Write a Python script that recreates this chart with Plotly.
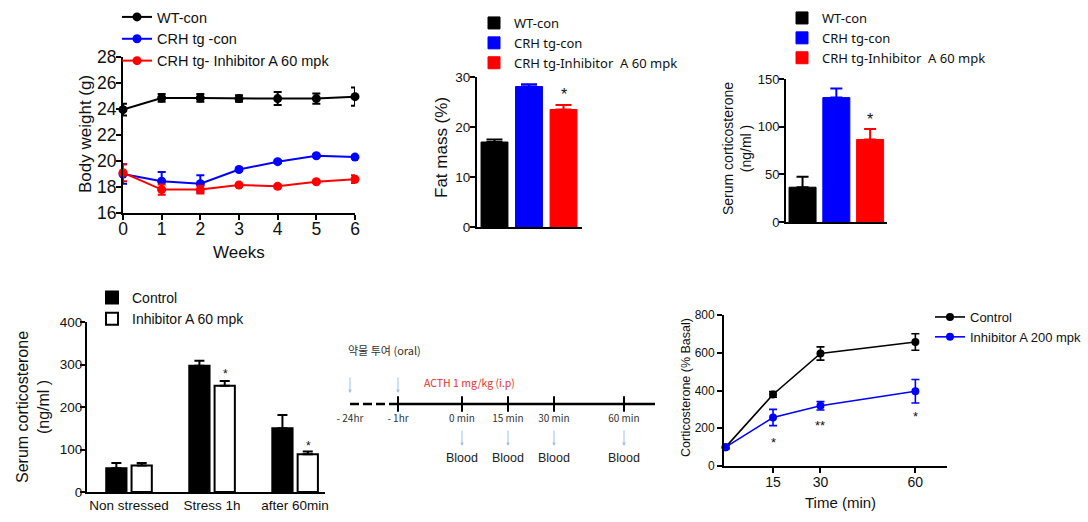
import plotly.graph_objects as go

W, H = 1088, 522
FONT = "Liberation Sans, Arial, sans-serif"
KFONT = "Noto Sans CJK KR, Noto Sans, sans-serif"
LFONT = "Noto Sans, Liberation Sans, sans-serif"

# ---------------- data ----------------
# Panel A: body weight over weeks
weeks = [0, 1, 2, 3, 4, 5, 6]
bw_names = ["WT-con", "CRH tg -con", "CRH tg- Inhibitor A 60 mpk"]
bw_wt = [23.95, 24.85, 24.85, 24.8, 24.8, 24.8, 24.95]
bw_wt_err = [0.45, 0.3, 0.3, 0.25, 0.5, 0.4, 0.7]
bw_tg = [19.0, 18.45, 18.25, 19.35, 19.95, 20.4, 20.3]
bw_tg_err = [0.75, 0.7, 0.65, 0.1, 0.1, 0.1, 0.1]
bw_inh = [19.1, 17.8, 17.8, 18.15, 18.05, 18.4, 18.6]
bw_inh_err = [0.65, 0.4, 0.3, 0.1, 0.1, 0.1, 0.3]

# Panel B: fat mass
grp_names = ["WT-con", "CRH tg-con", "CRH tg-Inhibitor\u00a0 A 60 mpk"]
fat_vals = [17.0, 28.1, 23.5]
fat_err = [0.5, 0.45, 0.9]
fat_star = 27.3

# Panel C: serum corticosterone
cort_vals = [36.5, 130.5, 86.5]
cort_err = [11, 9.5, 11]
cort_star = 112

# Panel D: stress test
stress_cats = ["Non stressed", "Stress 1h", "after 60min"]
stress_names = ["Control", "Inhibitor A 60 mpk"]
stress_ctrl = [56, 297, 150]
stress_ctrl_err = [12, 12, 31]
stress_inh = [62.5, 250, 89]
stress_inh_err = [5.5, 11, 6]
stress_star_idx = [1, 2]
stress_star_y = [285, 116]

# Panel E: ACTH schematic
time_labels = ["- 24hr", "- 1hr", "0 min", "15 min", "30 min", "60 min"]
blood_label = "Blood"
dose_label = "약물 투여 (oral)"
acth_label = "ACTH 1 mg/kg (i.p)"

# Panel F: ACTH challenge
time_min = [0, 15, 30, 60]
acth_names = ["Control", "Inhibitor A 200 mpk"]
acth_ctrl = [100, 379, 596, 657]
acth_ctrl_err = [10, 15, 35, 44]
acth_inh = [100, 257, 319, 396]
acth_inh_err = [10, 43, 22, 62]
acth_star_x = [15, 30, 60]
acth_star_text = ["*", "**", "*"]
acth_star_y = [142, 232, 280]

BLACK, BLUE, RED = "#000000", "#0000ff", "#ff0000"


def xdom(a, b):
    return [a / W, b / W]


def ydom(top, bot):
    return [1 - bot / H, 1 - top / H]


fig = go.Figure()

# ---------- Panel A ----------
for name, ys, err, col in [(bw_names[0], bw_wt, bw_wt_err, BLACK),
                           (bw_names[1], bw_tg, bw_tg_err, BLUE),
                           (bw_names[2], bw_inh, bw_inh_err, RED)]:
    fig.add_trace(go.Scatter(
        x=weeks, y=ys, name=name, mode="lines+markers",
        line=dict(color=col, width=2), marker=dict(color=col, size=9),
        error_y=dict(type="data", array=err, color=col, thickness=2, width=4),
        xaxis="x", yaxis="y", legend="legend", cliponaxis=False))

# ---------- Panel B ----------
for i, col in enumerate([BLACK, BLUE, RED]):
    fig.add_trace(go.Bar(
        x=[grp_names[i]], y=[fat_vals[i]], name=grp_names[i],
        marker=dict(color=col, line=dict(color=col, width=1)), width=0.78,
        offsetgroup="b",
        error_y=dict(type="data", array=[fat_err[i]], arrayminus=[0], symmetric=False,
                     color=col, thickness=2, width=8),
        xaxis="x2", yaxis="y2", legend="legend2"))

# ---------- Panel C ----------
for i, col in enumerate([BLACK, BLUE, RED]):
    fig.add_trace(go.Bar(
        x=[grp_names[i]], y=[cort_vals[i]], name=grp_names[i],
        marker=dict(color=col, line=dict(color=col, width=1)), width=0.8,
        offsetgroup="c",
        error_y=dict(type="data", array=[cort_err[i]], arrayminus=[0], symmetric=False,
                     color=col, thickness=2, width=6),
        xaxis="x3", yaxis="y3", legend="legend3"))

# ---------- Panel D ----------
fig.add_trace(go.Bar(
    x=stress_cats, y=stress_ctrl, name=stress_names[0], offsetgroup="d1",
    marker=dict(color=BLACK, line=dict(color=BLACK, width=2)),
    error_y=dict(type="data", array=stress_ctrl_err, arrayminus=[0] * 3, symmetric=False,
                 color=BLACK, thickness=2, width=5),
    xaxis="x4", yaxis="y4", legend="legend4"))
fig.add_trace(go.Bar(
    x=stress_cats, y=stress_inh, name=stress_names[1], offsetgroup="d2",
    marker=dict(color="white", line=dict(color=BLACK, width=2)),
    error_y=dict(type="data", array=stress_inh_err, arrayminus=[0] * 3, symmetric=False,
                 color=BLACK, thickness=2, width=5),
    xaxis="x4", yaxis="y4", legend="legend4"))

# ---------- Panel F ----------
for name, ys, err, col in [(acth_names[0], acth_ctrl, acth_ctrl_err, BLACK),
                           (acth_names[1], acth_inh, acth_inh_err, BLUE)]:
    fig.add_trace(go.Scatter(
        x=time_min, y=ys, name=name, mode="lines+markers",
        line=dict(color=col, width=1.6), marker=dict(color=col, size=8),
        error_y=dict(type="data", array=err, color=col, thickness=1.6, width=4),
        xaxis="x6", yaxis="y6", legend="legend6", cliponaxis=False))

# ---------- Panel E (schematic on a pixel-unit canvas) ----------
tick_px = [350, 398, 462, 508, 554, 624]   # schematic positions of time points
line_y = 404
fig.add_trace(go.Scatter(x=[tick_px[0], tick_px[1]], y=[line_y, line_y], mode="lines",
                         line=dict(color="black", width=2.5, dash="9px,4px"),
                         xaxis="x5", yaxis="y5", showlegend=False, hoverinfo="skip"))
fig.add_trace(go.Scatter(x=[tick_px[1], 655], y=[line_y, line_y], mode="lines",
                         line=dict(color="black", width=2.5),
                         xaxis="x5", yaxis="y5", showlegend=False, hoverinfo="skip"))
fig.add_trace(go.Scatter(x=tick_px[1:], y=[line_y] * 5, mode="markers",
                         marker=dict(symbol="line-ns-open", size=11, color="black",
                                     line=dict(color="black", width=2)),
                         xaxis="x5", yaxis="y5", showlegend=False, hoverinfo="skip"))
fig.add_trace(go.Scatter(x=tick_px, y=[419] * 6, mode="text", text=time_labels,
                         textfont=dict(family=KFONT, size=10, color="#333"),
                         xaxis="x5", yaxis="y5", showlegend=False, hoverinfo="skip"))
fig.add_trace(go.Scatter(x=tick_px[2:], y=[459] * 4, mode="text", text=[blood_label] * 4,
                         textfont=dict(family=FONT, size=12.5, color="#222"),
                         xaxis="x5", yaxis="y5", showlegend=False, hoverinfo="skip"))

annotations = []
ARROW = "#9cc0e8"
for xp in tick_px[:2]:
    annotations.append(dict(x=xp, y=393, ax=xp, ay=376, xref="x5", yref="y5",
                            axref="x5", ayref="y5", text="", showarrow=True,
                            arrowhead=2, arrowsize=0.7, arrowwidth=1, arrowcolor=ARROW))
for xp in tick_px[2:]:
    annotations.append(dict(x=xp, y=446, ax=xp, ay=429, xref="x5", yref="y5",
                            axref="x5", ayref="y5", text="", showarrow=True,
                            arrowhead=2, arrowsize=0.7, arrowwidth=1, arrowcolor=ARROW))
annotations.append(dict(x=346, y=350, xref="x5", yref="y5", text=dose_label, showarrow=False,
                        xanchor="left", font=dict(family=KFONT, size=11, color="#333")))
annotations.append(dict(x=422, y=382, xref="x5", yref="y5", text=acth_label, showarrow=False,
                        xanchor="left", font=dict(family=KFONT, size=10.5, color="#e8302a")))

# ---------- stars ----------
annotations.append(dict(x=grp_names[2], y=fat_star, xref="x2", yref="y2", text="*",
                        showarrow=False, yshift=-4, font=dict(family=FONT, size=16, color="#111")))
annotations.append(dict(x=grp_names[2], y=cort_star, xref="x3", yref="y3", text="*",
                        showarrow=False, yshift=-4, font=dict(family=FONT, size=16, color="#111")))
for idx, sy in zip(stress_star_idx, stress_star_y):
    annotations.append(dict(x=idx + 0.16, y=sy, xref="x4", yref="y4", text="*",
                            showarrow=False, yshift=-3, font=dict(family=FONT, size=12, color="#111")))
for sx, st, sy in zip(acth_star_x, acth_star_text, acth_star_y):
    annotations.append(dict(x=sx, y=sy, xref="x6", yref="y6", text=st,
                            showarrow=False, yshift=-3, font=dict(family=FONT, size=13, color="#111")))


# ---------- axis titles (as annotations) ----------
def ytitle(text, xpx, ypx, size):
    annotations.append(dict(x=xpx / W, y=1 - ypx / H, xref="paper", yref="paper", text=text,
                            textangle=-90, showarrow=False, xanchor="center", yanchor="middle",
                            font=dict(family=FONT, size=size, color="#111")))


def xtitle(text, xpx, ypx, size):
    annotations.append(dict(x=xpx / W, y=1 - ypx / H, xref="paper", yref="paper", text=text,
                            showarrow=False, xanchor="center", yanchor="middle",
                            font=dict(family=FONT, size=size, color="#111")))


ytitle("Body weight (g)", 86, 134, 17)
xtitle("Weeks", 239, 252, 17)
ytitle("Fat mass (%)", 442, 148, 17)
ytitle("Serum corticosterone<br>(ng/ml )", 737, 149, 14)
ytitle("Serum corticosterone<br>(ng/ml )", 33, 407, 16)
ytitle("Corticosterone (% Basal)", 686, 388, 12.5)
xtitle("Time (min)", 840, 502, 15)


def ax(**kw):
    base = dict(showline=True, linecolor="black", linewidth=2, ticks="outside", ticklen=5,
                tickwidth=2, tickcolor="black", showgrid=False, zeroline=False,
                tickfont=dict(family=FONT, color="#111"), fixedrange=True)
    base.update(kw)
    return base


def legend(xpx, ypx, size, family=FONT):
    return dict(x=xpx / W, y=1 - ypx / H, xanchor="left", yanchor="top",
                bgcolor="rgba(0,0,0,0)", borderwidth=0, traceorder="normal",
                font=dict(family=family, size=size, color="#111"), itemwidth=30)


fig.update_layout(
    width=W, height=H, margin=dict(l=0, r=0, t=0, b=0, autoexpand=False),
    paper_bgcolor="white", plot_bgcolor="rgba(0,0,0,0)",
    barmode="group", bargap=0.39, bargroupgap=0.2,
    showlegend=True,
    xaxis=ax(domain=xdom(123, 355), range=[0, 6], dtick=1, ticklabelstandoff=-6,
             tickfont=dict(family=FONT, size=17.5, color="#111"), anchor="y"),
    yaxis=ax(domain=ydom(57, 213), range=[16, 28], dtick=2, ticklabelstandoff=-4,
             tickfont=dict(family=FONT, size=17.5, color="#111"), anchor="x"),
    xaxis2=ax(domain=xdom(477, 582), range=[-0.507, 2.536], type="category", ticks="",
              showticklabels=False, anchor="y2"),
    yaxis2=ax(domain=ydom(77, 227), range=[0, 30], dtick=10, ticklabelstandoff=-3,
              tickfont=dict(family=FONT, size=13.5, color="#111"), anchor="x2"),
    xaxis3=ax(domain=xdom(786, 887), range=[-0.49, 2.5], type="category", ticks="",
              showticklabels=False, anchor="y3"),
    yaxis3=ax(domain=ydom(79, 222), range=[0, 150], dtick=50, ticklabelstandoff=-3,
              tickfont=dict(family=FONT, size=13, color="#111"), anchor="x3"),
    xaxis4=ax(domain=xdom(87, 325), range=[-0.506, 2.36], type="category", ticks="",
              tickfont=dict(family=FONT, size=13.5, color="#111"), anchor="y4"),
    yaxis4=ax(domain=ydom(322, 492), range=[0, 400], dtick=100, ticklabelstandoff=-5,
              tickfont=dict(family=FONT, size=13.5, color="#111"), anchor="x4"),
    xaxis5=dict(domain=xdom(330, 670), range=[330, 670], visible=False, fixedrange=True, anchor="y5"),
    yaxis5=dict(domain=ydom(330, 480), range=[480, 330], visible=False, fixedrange=True, anchor="x5"),
    xaxis6=ax(domain=xdom(724, 947), range=[-0.5, 70], tickvals=[15, 30, 60], linewidth=1.8,
              tickwidth=1.8, ticklabelstandoff=-3,
              tickfont=dict(family=FONT, size=14, color="#111"), anchor="y6"),
    yaxis6=ax(domain=ydom(315, 466), range=[0, 800], dtick=200, linewidth=1.8, tickwidth=1.8,
              tickfont=dict(family=FONT, size=12, color="#111"), anchor="x6"),
    legend=legend(117, 1, 14.5),
    legend2=legend(474, 8, 13, LFONT),
    legend3=legend(782, 3, 13, LFONT),
    legend4=legend(92, 282, 14),
    legend6=legend(930, 302, 13),
    annotations=annotations,
)

fig.write_html("out.html")
